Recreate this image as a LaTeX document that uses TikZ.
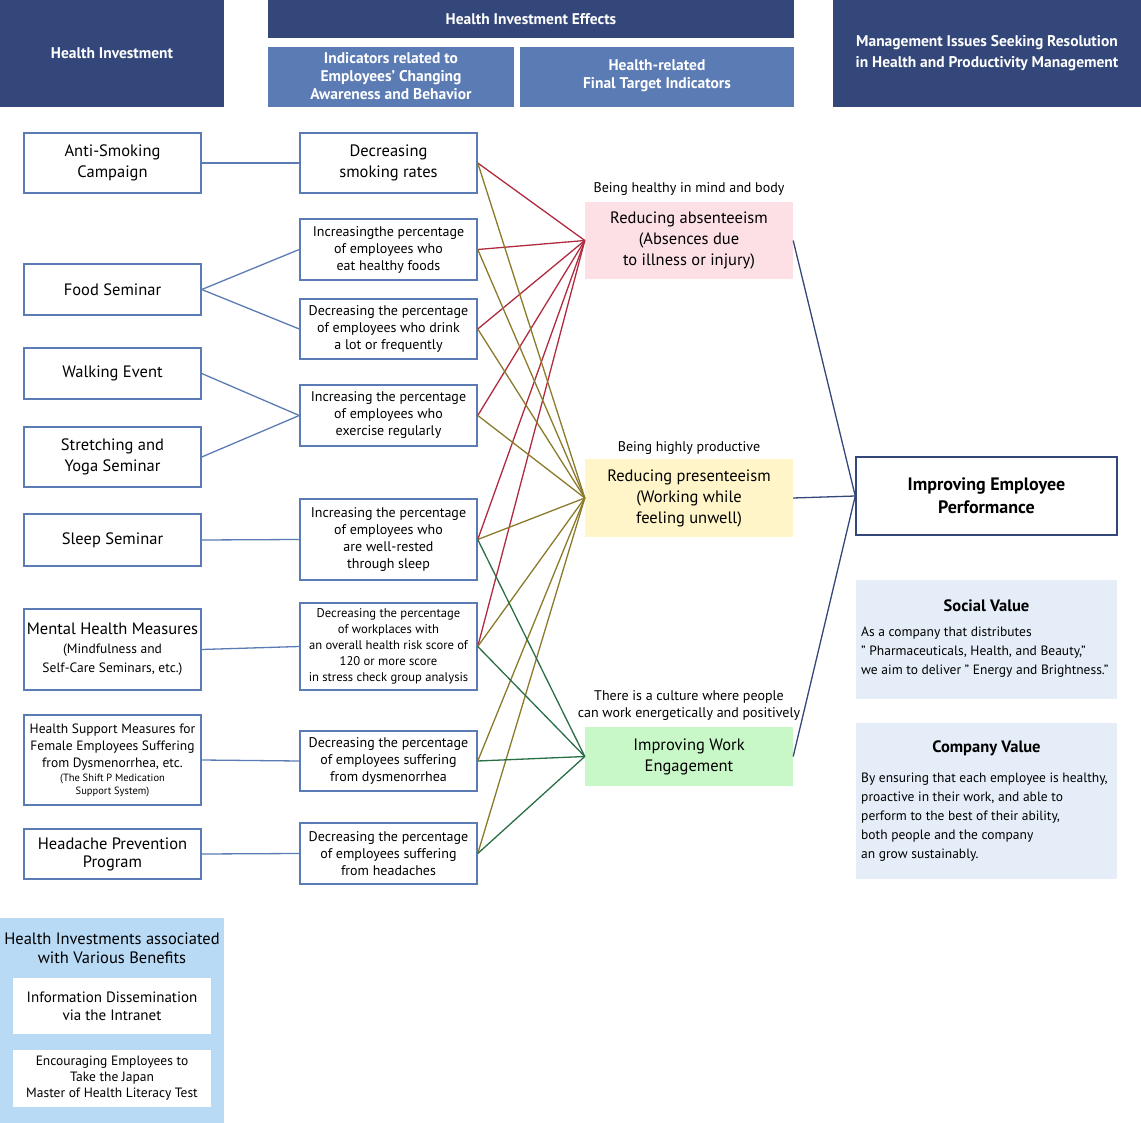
\documentclass[tikz,border=0pt]{standalone}
\usepackage{fontspec}
\setmainfont{PT Sans}
\begin{document}
\definecolor{navy}{HTML}{34477A}
\definecolor{mid}{HTML}{5B7BB4}
\definecolor{rd}{HTML}{B02A40}
\definecolor{ol}{HTML}{8B7A2A}
\definecolor{gr}{HTML}{2A6E45}
\definecolor{pk}{HTML}{FDE0E6}
\definecolor{yl}{HTML}{FFF5C8}
\definecolor{gn}{HTML}{C8F8C8}
\definecolor{lb}{HTML}{E5EEF8}
\definecolor{bb}{HTML}{B9DAF5}
\begin{tikzpicture}[x=1pt,y=-1pt,
 hdr/.style={fill=navy,text=white,font=\bfseries\fontsize{15.5}{18}\selectfont,align=center},
 sub/.style={fill=mid,text=white,font=\bfseries\fontsize{15.5}{18}\selectfont,align=center},
 bx/.style={draw=mid,line width=1.5pt,fill=white,align=center,font=\fontsize{16.5}{21}\selectfont,inner sep=0pt},
 sm/.style={font=\fontsize{14}{17}\selectfont},
 res/.style={align=center,font=\fontsize{16.5}{21}\selectfont,inner sep=0pt},
 bl/.style={draw=mid,line width=1.3pt},
 rl/.style={draw=rd,line width=1.3pt},
 ol/.style={draw=ol,line width=1.3pt},
 gl/.style={draw=gr,line width=1.3pt},
 nl/.style={draw=navy,line width=1.3pt}]
\useasboundingbox (0,0) rectangle (1141,1123);
% headers
\fill[navy] (0,0) rectangle (224,107); \node[hdr] (h1) at (112,53) {Health Investment};
\fill[navy] (268,0) rectangle (794,38); \node[hdr] (h2) at (531,19) {Health Investment Effects};
\fill[mid] (268,47) rectangle (514,107); \node[sub] (h3) at (391,76) {Indicators related to\\Employees' Changing\\Awareness and Behavior};
\fill[mid] (520,47) rectangle (794,107); \node[sub] (h4) at (657,76) {Health-related\\Final Target Indicators};
\fill[navy] (833,0) rectangle (1141,107); \node[hdr,font=\bfseries\fontsize{15.5}{21}\selectfont] (h5) at (987,53) {Management Issues Seeking Resolution\\in Health and Productivity Management};
% left boxes
\node[bx,minimum width=177,minimum height=60] (L1) at (112.5,163) {Anti-Smoking\\Campaign};
\node[bx,minimum width=177,minimum height=51] (L2) at (112.5,289.5) {Food Seminar};
\node[bx,minimum width=177,minimum height=51] (L3) at (112.5,373.5) {Walking Event};
\node[bx,minimum width=177,minimum height=60] (L4) at (112.5,457) {Stretching and\\Yoga Seminar};
\node[bx,minimum width=177,minimum height=52] (L5) at (112.5,540) {Sleep Seminar};
\node[bx,minimum width=177,minimum height=81] (L6) at (112.5,649.5) {Mental Health Measures\\[-2pt]{\fontsize{13.5}{16}\selectfont(Mindfulness and}\\[-2pt]{\fontsize{13.5}{16}\selectfont Self-Care Seminars, etc.)}};
\node[bx,minimum width=177,minimum height=90,font=\fontsize{13.5}{17}\selectfont] (L7) at (112.5,760) {Health Support Measures for\\Female Employees Suffering\\from Dysmenorrhea, etc.\\[-3pt]{\fontsize{10.5}{13}\selectfont(The Shift P Medication}\\[-4pt]{\fontsize{10.5}{13}\selectfont Support System)}};
\node[bx,minimum width=177,minimum height=50] (L8) at (112.5,854) {Headache Prevention\\[-3pt]Program};
% middle boxes
\node[bx,minimum width=177,minimum height=60] (M1) at (388.5,163) {Decreasing\\smoking rates};
\node[bx,minimum width=177,minimum height=61,sm] (M2) at (388.5,249.5) {Increasingthe percentage\\of employees who\\eat healthy foods};
\node[bx,minimum width=177,minimum height=60,sm] (M3) at (388.5,329) {Decreasing the percentage\\of employees who drink\\a lot or frequently};
\node[bx,minimum width=177,minimum height=61,sm] (M4) at (388.5,415.5) {Increasing the percentage\\of employees who\\exercise regularly};
\node[bx,minimum width=177,minimum height=81,sm] (M5) at (388.5,539.5) {Increasing the percentage\\of employees who\\are well-rested\\through sleep};
\node[bx,minimum width=177,minimum height=87,font=\fontsize{12.6}{16}\selectfont] (M6) at (388.5,646.5) {Decreasing the percentage\\of workplaces with\\an overall health risk score of\\120 or more score\\in stress check group analysis};
\node[bx,minimum width=177,minimum height=60,sm] (M7) at (388.5,761) {Decreasing the percentage\\of employees suffering\\from dysmenorrhea};
\node[bx,minimum width=177,minimum height=61,sm] (M8) at (388.5,853.5) {Decreasing the percentage\\of employees suffering\\from headaches};
% result boxes
\node[res,fill=pk,minimum width=208,minimum height=77] (R1) at (689,240.5) {Reducing absenteeism\\(Absences due\\to illness or injury)};
\node[res,fill=yl,minimum width=208,minimum height=78] (R2) at (689,498) {Reducing presenteeism\\(Working while\\feeling unwell)};
\node[res,fill=gn,minimum width=208,minimum height=59] (R3) at (689,756.5) {Improving Work\\Engagement};
\node[font=\fontsize{14}{17}\selectfont] (t1) at (689,189) {Being healthy in mind and body};
\node[font=\fontsize{14}{17}\selectfont] (t2) at (689,448) {Being highly productive};
\node[align=center,font=\fontsize{14}{17}\selectfont] (t3) at (689,706) {There is a culture where people\\can work energetically and positively};
% final
\node[draw=navy,line width=1.5pt,fill=white,minimum width=261,minimum height=78,align=center,font=\bfseries\fontsize{18}{23}\selectfont] (F) at (986.5,496) {Improving Employee\\Performance};
\fill[lb] (856,580) rectangle (1117,699);
\node[font=\bfseries\fontsize{16.5}{20}\selectfont] (sv) at (986.5,606) {Social Value};
\node[anchor=north west,align=left,inner sep=0pt,font=\fontsize{13.5}{19}\selectfont] (svt) at (861,627) {As a company that distributes\\" Pharmaceuticals, Health, and Beauty,"\\we aim to deliver " Energy and Brightness."};
\fill[lb] (856,723) rectangle (1117,879);
\node[font=\bfseries\fontsize{16.5}{20}\selectfont] (cv) at (986.5,748) {Company Value};
\node[anchor=north west,align=left,inner sep=0pt,font=\fontsize{13.5}{19}\selectfont] (cvt) at (861,773) {By ensuring that each employee is healthy,\\proactive in their work, and able to\\perform to the best of their ability,\\both people and the company\\an grow sustainably.};
% bottom
\fill[bb] (0,918) rectangle (224,1123);
\node[align=center,font=\fontsize{16.5}{19}\selectfont] (bt) at (112,948) {Health Investments associated\\with Various Benefits};
\node[fill=white,minimum width=198,minimum height=56,align=center,font=\fontsize{15}{18}\selectfont] (b1) at (112,1006) {Information Dissemination\\via the Intranet};
\node[fill=white,minimum width=198,minimum height=57,align=center,font=\fontsize{13.5}{16}\selectfont] (b2) at (112,1078.5) {Encouraging Employees to\\Take the Japan\\Master of Health Literacy Test};
% blue connectors
\draw[bl] (L1.east) -- (M1.west);
\draw[bl] (L2.east) -- (M2.west);
\draw[bl] (L2.east) -- (M3.west);
\draw[bl] (L3.east) -- (M4.west);
\draw[bl] (L4.east) -- (M4.west);
\draw[bl] (L5.east) -- (M5.west);
\draw[bl] (L6.east) -- (M6.west);
\draw[bl] (L7.east) -- (M7.west);
\draw[bl] (L8.east) -- (M8.west);
\foreach \m in {M1,M2,M3,M4,M5,M6} \draw[rl] (\m.east) -- (R1.west);
\foreach \m in {M1,M2,M3,M4,M5,M6,M7,M8} \draw[ol] (\m.east) -- (R2.west);
\foreach \m in {M5,M6,M7,M8} \draw[gl] (\m.east) -- (R3.west);
\draw[nl] (R1.east) -- (F.west);
\draw[nl] (R2.east) -- (F.west);
\draw[nl] (R3.east) -- (F.west);
\end{tikzpicture}
\end{document}
